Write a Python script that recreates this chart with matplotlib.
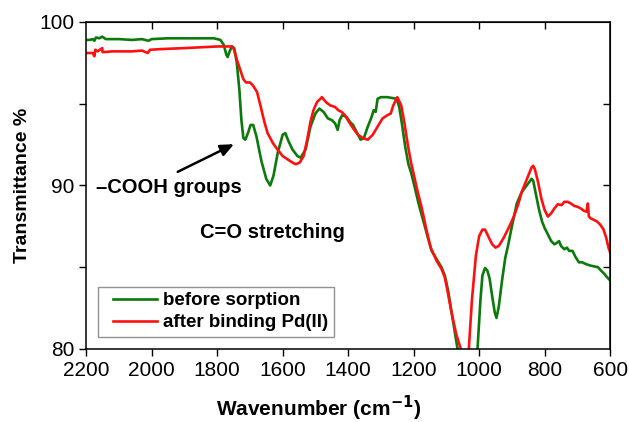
import matplotlib
matplotlib.use("Agg")
import matplotlib.pyplot as plt
from matplotlib.legend_handler import HandlerLine2D

plt.rcParams['font.family'] = ['Liberation Sans', 'DejaVu Sans']

# FTIR spectra (wavenumber in cm-1, transmittance in %)
wn_before = [2200, 2190, 2180, 2175, 2170, 2160, 2151, 2140, 2100, 2060, 2030, 2010, 2000,
             1950, 1900, 1850, 1810, 1790, 1780, 1772, 1768, 1762, 1755, 1748, 1740, 1732,
             1726, 1720, 1714, 1706, 1698, 1690, 1680, 1665, 1650, 1638, 1628, 1615, 1600,
             1592, 1582, 1570, 1555, 1545, 1530, 1515, 1500, 1488, 1475, 1462, 1450, 1440,
             1432, 1426, 1418, 1405, 1395, 1385, 1375, 1362, 1352, 1340, 1330, 1322, 1316,
             1310, 1300, 1280, 1265, 1252, 1244, 1236, 1226, 1216, 1208, 1198, 1185, 1170,
             1155, 1145, 1130, 1115, 1105, 1095, 1082, 1066, 1055, 1040, 1020, 1008, 1002,
             996, 990, 982, 975, 968, 960, 952, 947, 940, 930, 920, 912, 900, 885, 870, 855,
             840, 835, 828, 818, 808, 800, 790, 780, 770, 762, 756, 750, 740, 732, 725, 715,
             705, 695, 685, 675, 660, 648, 637, 628, 618, 610, 600]
tr_before = [98.9, 98.9, 98.95, 98.85, 99.05, 99.0, 99.1, 98.95, 98.95, 98.9, 98.95, 98.85, 98.95,
             99.0, 99.0, 99.0, 99.0, 98.9, 98.6, 98.0, 97.85, 98.2, 98.5, 98.4, 97.5, 95.8,
             94.0, 92.9, 92.8, 93.2, 93.7, 93.7, 93.0, 91.5, 90.4, 90.0, 90.6, 92.0, 93.1,
             93.2, 92.7, 92.2, 91.8, 91.7, 92.2, 93.6, 94.4, 94.7, 94.5, 94.1, 94.0, 93.8,
             93.4, 94.0, 94.3, 94.2, 93.9, 93.7, 93.3, 92.8, 92.9, 93.6, 94.1, 94.6, 94.5,
             95.3, 95.4, 95.4, 95.35, 95.3, 94.8, 93.8, 92.4, 91.3, 90.8, 90.0, 88.9, 87.8,
             86.7, 86.0, 85.5, 85.0, 84.5, 83.6, 82.0, 80.0, 78.0, 76.5, 77.0, 79.0, 81.0,
             83.0, 84.5, 84.95, 84.8, 84.3, 83.2, 82.2, 81.9, 82.6, 84.2, 85.6, 86.3, 87.5, 88.9, 89.6, 90.0,
             90.4, 90.3, 89.6, 88.6, 87.8, 87.4, 87.0, 86.6, 86.4, 86.5, 86.6, 86.3, 86.1, 86.2, 86.0, 86.0,
             85.6, 85.3, 85.3, 85.2, 85.1, 85.05, 85.0, 84.8, 84.6, 84.4, 84.2]

wn_after = [2200, 2190, 2180, 2175, 2172, 2165, 2151, 2150, 2120, 2100, 2060, 2030, 2012, 2005,
            1960, 1900, 1850, 1800, 1770, 1755, 1748, 1740, 1730, 1720, 1712, 1700, 1690,
            1678, 1668, 1656, 1646, 1630, 1616, 1600, 1585, 1570, 1560, 1548, 1536, 1525,
            1515, 1506, 1495, 1480, 1468, 1455, 1440, 1430, 1420, 1410, 1398, 1385, 1370,
            1355, 1340, 1325, 1310, 1295, 1280, 1270, 1262, 1250, 1238, 1228, 1218, 1208,
            1200, 1190, 1175, 1160, 1148, 1130, 1115, 1105, 1096, 1085, 1070, 1056, 1048,
            1040, 1034, 1030, 1022, 1010, 1000, 990, 982, 970, 960, 950, 940, 925, 910, 894,
            880, 870, 860, 850, 840, 835, 830, 820, 810, 800, 790, 780, 770, 760, 748, 740,
            730, 720, 710, 700, 690, 680, 672, 668, 665, 660, 650, 640, 630, 620, 612, 605, 600]
tr_after = [98.1, 98.1, 98.1, 97.9, 98.3, 98.2, 98.4, 98.15, 98.2, 98.2, 98.2, 98.25, 98.1, 98.3,
            98.35, 98.4, 98.45, 98.5, 98.5, 98.5, 98.3, 97.7, 97.1, 96.5, 96.3, 96.3, 96.1,
            95.7, 94.9, 93.9, 93.2, 92.6, 92.2, 91.8, 91.6, 91.4, 91.3, 91.4, 91.8, 92.8,
            93.9, 94.6, 95.1, 95.4, 95.1, 94.9, 94.8, 94.6, 94.5, 94.3, 93.9, 93.5, 93.1,
            92.9, 92.8, 93.1, 93.6, 94.1, 94.3, 94.4, 94.9, 95.4, 94.9, 93.8, 92.5, 91.4,
            90.7, 89.8, 88.6, 87.2, 86.2, 85.4, 84.9, 84.4, 83.5, 82.3, 80.9, 80.0, 78.5,
            77.5, 79.0, 80.5, 83.0, 85.7, 86.9, 87.3, 87.3, 86.8, 86.4, 86.2, 86.3, 86.8, 87.4, 88.1,
            88.9, 89.6, 90.1, 90.6, 91.1, 91.2, 91.0, 90.2, 89.2, 88.5, 88.1, 88.3, 88.6, 88.85, 88.8, 89.0,
            89.0, 88.9, 88.75, 88.7, 88.6, 88.45, 88.4, 88.9, 88.1, 88.0, 87.9, 87.8, 87.6, 87.3, 86.8, 86.2, 85.9]

fig = plt.figure(figsize=(6.29, 4.22), dpi=100)
ax = fig.add_axes([0.137, 0.173, 0.833, 0.775])

ax.plot(wn_before, tr_before, color='#0a7a0a', lw=1.9, label='before sorption')
ax.plot(wn_after, tr_after, color='#ff1010', lw=1.9, label='after binding Pd(II)')

ax.set_xlim(2200, 600)
ax.set_ylim(80, 100)
ax.set_xticks(range(2200, 599, -200))
ax.set_yticks([80, 90, 100])
ax.set_yticks([85, 95], minor=True)

ax.tick_params(axis='both', which='both', labelsize=15, direction='out',
               length=5, width=1)
for s in ax.spines.values():
    s.set_linewidth(1.1)

# inward ticks on the top and right edges
top = ax.secondary_xaxis('top')
top.set_xticks(range(2000, 700, -200))
top.tick_params(direction='in', length=5, width=1, labeltop=False)
right = ax.secondary_yaxis('right')
right.set_yticks([85, 90, 95])
right.tick_params(direction='in', length=5, width=1, labelright=False)

ax.set_xlabel('Wavenumber (cm$^{\\mathbf{-1}}$)', fontsize=15, fontweight='bold', labelpad=10)
ax.xaxis.label.set_x(0.443)
ax.set_ylabel('Transmittance %', fontsize=14, fontweight='bold', labelpad=6)

ax.annotate('', xy=(1741, 92.6), xytext=(1928, 90.76),
            arrowprops=dict(arrowstyle='-|>,head_length=0.8,head_width=0.35',
                            color='black', lw=1.8))
ax.text(2169, 89.9, '\u2013COOH groups', fontsize=14.5, fontweight='bold',
        ha='left', va='center')
ax.text(1851, 87.1, 'C=O stretching', fontsize=14.5, fontweight='bold',
        ha='left', va='center')

leg = ax.legend(loc='lower left', bbox_to_anchor=(0.023, 0.037), fancybox=False,
                edgecolor='#777777', fontsize=13.5, handlelength=2.85,
                borderpad=0.3, labelspacing=0.25, handletextpad=0.32,
                borderaxespad=0.0,
                handler_map={plt.Line2D: HandlerLine2D(xpad=0.5)})
leg.get_frame().set_linewidth(1.0)
for t in leg.get_texts():
    t.set_fontweight('bold')

fig.savefig('out.png', dpi=100)
